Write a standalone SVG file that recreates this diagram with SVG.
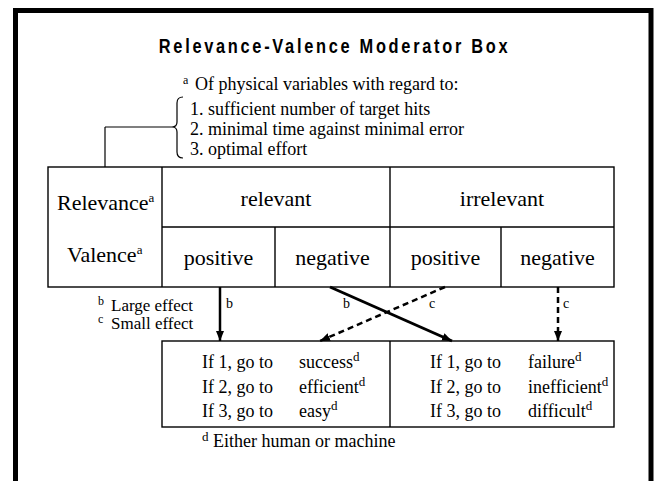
<svg xmlns="http://www.w3.org/2000/svg" width="659" height="481" viewBox="0 0 659 481">
<style>
.t{font-family:"Liberation Serif","Times New Roman",serif;fill:#000}
.ln{stroke:#000;fill:none}
.sm{font-size:18px}
.big{font-size:22px}
.lab{font-size:14px}
</style>
<defs>
<marker id="ah" markerUnits="userSpaceOnUse" markerWidth="10" markerHeight="8" refX="10" refY="4" orient="auto">
<path d="M0,0 L10,4 L0,8 z" fill="#000"/>
</marker>
</defs>
<rect x="0" y="0" width="659" height="481" fill="#fff"/>
<rect id="frame" x="15.5" y="10.5" width="635.5" height="520" fill="#fff" stroke="#000" stroke-width="5"/>
<text id="title" transform="scale(0.82,1)" x="408" y="53" text-anchor="middle" font-family="'Liberation Sans',Arial,sans-serif" font-weight="bold" font-size="20" letter-spacing="3.3">Relevance-Valence Moderator Box</text>

<g id="note-a">
<text class="t" x="183" y="84" font-size="12">a</text>
<text class="t sm" x="195" y="90">Of physical variables with regard to:</text>
<text class="t sm" x="190" y="115">1. sufficient number of target hits</text>
<text class="t sm" x="190" y="135">2. minimal time against minimal error</text>
<text class="t sm" x="190" y="155">3. optimal effort</text>
<path class="ln" stroke-width="1.2" d="M183 97 Q177 97 177 103 L177 122 Q177 127 172 127 Q177 127 177 132 L177 152 Q177 158 183 158"/>
</g>

<g id="table">
<rect class="ln" x="48" y="167" width="566" height="120" stroke-width="1.4"/>
<line class="ln" x1="162" y1="167" x2="162" y2="287" stroke-width="1.4"/>
<line class="ln" x1="390" y1="167" x2="390" y2="287" stroke-width="1.4"/>
<line class="ln" x1="162" y1="227" x2="614" y2="227" stroke-width="1.4"/>
<line class="ln" x1="275" y1="227" x2="275" y2="287" stroke-width="1.4"/>
<line class="ln" x1="501" y1="227" x2="501" y2="287" stroke-width="1.4"/>
<text class="t big" x="57" y="210">Relevance<tspan font-size="13" dy="-8">a</tspan></text>
<text class="t big" x="67" y="262">Valence<tspan font-size="13" dy="-8">a</tspan></text>
<text class="t big" x="276" y="206" text-anchor="middle">relevant</text>
<text class="t big" x="502" y="206" text-anchor="middle">irrelevant</text>
<text class="t big" x="218.5" y="265" text-anchor="middle">positive</text>
<text class="t big" x="332.5" y="265" text-anchor="middle">negative</text>
<text class="t big" x="445.5" y="265" text-anchor="middle">positive</text>
<text class="t big" x="557.5" y="265" text-anchor="middle">negative</text>
</g>

<g id="note-bc">
<text class="t" x="98" y="311" font-size="17"><tspan font-size="12" dy="-6">b</tspan><tspan x="111" dy="6">Large effect</tspan></text>
<text class="t" x="98" y="329" font-size="17"><tspan font-size="12" dy="-6">c</tspan><tspan x="111" dy="6">Small effect</tspan></text>
</g>

<g id="connectors">
<line class="ln" x1="105" y1="167" x2="105" y2="127" stroke-width="1.2"/>
<line class="ln" x1="105" y1="127" x2="172" y2="127" stroke-width="1.2"/>
<line class="ln" x1="220" y1="287" x2="220" y2="341" stroke-width="2.5" marker-end="url(#ah)"/>
<line class="ln" x1="330" y1="287" x2="452" y2="341" stroke-width="3" marker-end="url(#ah)"/>
<line class="ln" x1="445" y1="287" x2="320" y2="341" stroke-width="2.5" stroke-dasharray="6,4" marker-end="url(#ah)"/>
<line class="ln" x1="558" y1="287" x2="558" y2="341" stroke-width="2.5" stroke-dasharray="6,4" marker-end="url(#ah)"/>
<text class="t lab" x="226" y="308">b</text>
<text class="t lab" x="343" y="308">b</text>
<text class="t lab" x="429" y="308">c</text>
<text class="t lab" x="563" y="308">c</text>
</g>

<g id="outcomes">
<rect class="ln" x="162" y="341" width="452" height="86" stroke-width="1.4"/>
<line class="ln" x1="390" y1="341" x2="390" y2="427" stroke-width="1.4"/>
<text class="t sm" x="202" y="368">If 1, go to</text>
<text class="t sm" x="202" y="393">If 2, go to</text>
<text class="t sm" x="202" y="417">If 3, go to</text>
<text class="t sm" x="299" y="368">success<tspan font-size="13" dy="-7">d</tspan></text>
<text class="t sm" x="299" y="393">efficient<tspan font-size="13" dy="-7">d</tspan></text>
<text class="t sm" x="299" y="417">easy<tspan font-size="13" dy="-7">d</tspan></text>
<text class="t sm" x="430" y="368">If 1, go to</text>
<text class="t sm" x="430" y="393">If 2, go to</text>
<text class="t sm" x="430" y="417">If 3, go to</text>
<text class="t sm" x="528" y="368">failure<tspan font-size="13" dy="-7">d</tspan></text>
<text class="t sm" x="528" y="393">inefficient<tspan font-size="13" dy="-7">d</tspan></text>
<text class="t sm" x="528" y="417">difficult<tspan font-size="13" dy="-7">d</tspan></text>
</g>

<g id="note-d">
<text class="t" x="202" y="447" font-size="18"><tspan font-size="13" dy="-6">d</tspan><tspan x="213" dy="6">Either human or machine</tspan></text>
</g>
</svg>
